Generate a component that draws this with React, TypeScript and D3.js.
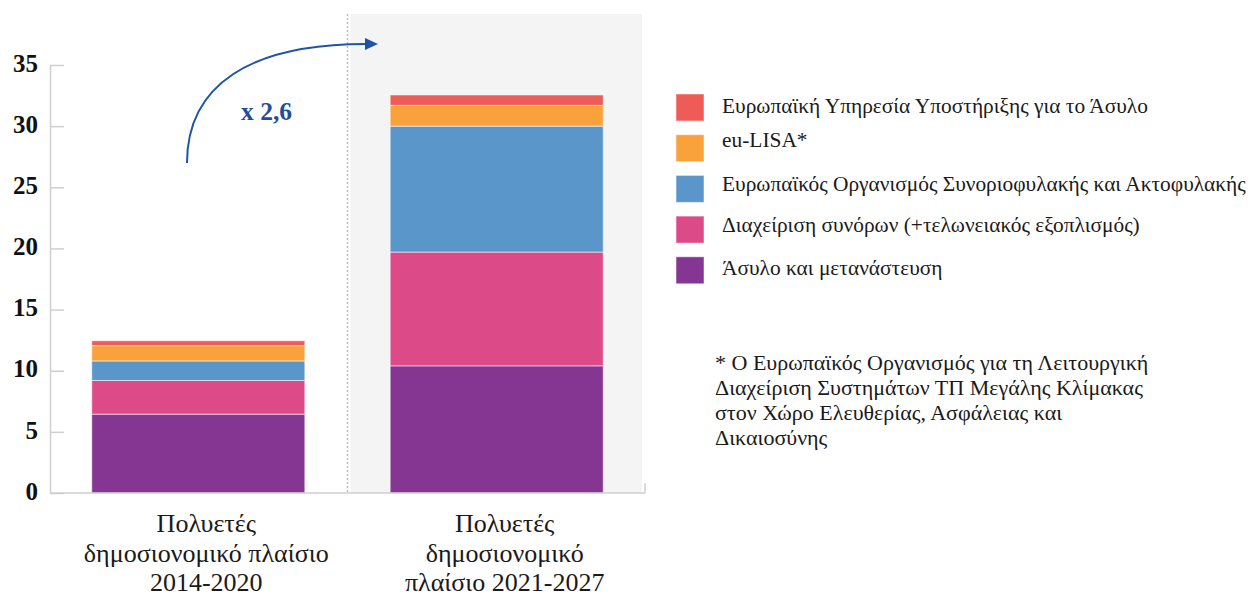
import { useEffect, useRef } from "react";
import * as d3 from "d3";

// periods (x categories), each label split into lines
const periods = ["2014-2020", "2021-2027"];
const periodLabels = [
  ["Πολυετές", "δημοσιονομικό πλαίσιο", "2014-2020"],
  ["Πολυετές", "δημοσιονομικό", "πλαίσιο 2021-2027"],
];

// stack order: bottom -> top
const seriesKeys = ["asylum", "borders", "frontex", "eulisa", "easo"];
const seriesNames = [
  "Άσυλο και μετανάστευση",
  "Διαχείριση συνόρων (+τελωνειακός εξοπλισμός)",
  "Ευρωπαϊκός Οργανισμός Συνοριοφυλακής και Ακτοφυλακής",
  "eu-LISA*",
  "Ευρωπαϊκή Υπηρεσία Υποστήριξης για το Άσυλο",
];
const seriesColors = ["#843692", "#DD4A88", "#5B96CB", "#F9A13A", "#EF5B57"];

// billion EUR
const asylum = [6.45, 10.4];
const borders = [2.75, 9.3];
const frontex = [1.6, 10.3];
const eulisa = [1.25, 1.7];
const easo = [0.4, 0.85];

const yTicks = [0, 5, 10, 15, 20, 25, 30, 35];
const growthLabel = "x 2,6";
const footnote = [
  "* Ο Ευρωπαϊκός Οργανισμός για τη Λειτουργική",
  "Διαχείριση Συστημάτων ΤΠ Μεγάλης Κλίμακας",
  "στον Χώρο Ελευθερίας, Ασφάλειας και",
  "Δικαιοσύνης",
];

const W = 1248;
const H = 596;
const serif = "'Liberation Serif', 'Times New Roman', serif";

export default function App() {
  const yAxis = useRef<SVGGElement>(null);

  const rows = periods.map((p, i) => ({
    period: p,
    asylum: asylum[i],
    borders: borders[i],
    frontex: frontex[i],
    eulisa: eulisa[i],
    easo: easo[i],
  }));
  const stacked = d3.stack<any>().keys(seriesKeys)(rows);

  const x = d3
    .scaleBand()
    .domain(periods)
    .range([50, 645])
    .paddingInner(0.286)
    .paddingOuter(0.14);
  const y = d3.scaleLinear().domain([0, 35]).range([493, 65]);
  const color = d3.scaleOrdinal<string, string>().domain(seriesKeys).range(seriesColors);

  const splitX = (x(periods[1]) as number) - (x.step() * x.paddingInner()) / 2;
  const [x0, x1] = x.range();

  useEffect(() => {
    const g = d3.select(yAxis.current!);
    g.attr("transform", `translate(${x0},0)`)
      .call(d3.axisLeft(y).tickValues(yTicks).tickSize(-14).tickSizeOuter(0).tickPadding(12));
    g.attr("font-family", serif).attr("font-size", 25);
    g.select(".domain").attr("stroke", "#cfcfcf").attr("stroke-width", 1.5);
    g.selectAll(".tick line").attr("stroke", "#cfcfcf").attr("stroke-width", 1.5);
    g.selectAll(".tick text")
      .attr("fill", "#111")
      .attr("dy", "0.25em")
      .style("font-family", serif)
      .style("font-weight", "bold")
      .style("font-size", "25px");
  }, []);

  // arrow from first bar region to second
  const arrow = d3.path();
  arrow.moveTo(187, 163);
  arrow.bezierCurveTo(187, 85, 250, 44, 366, 44);

  const legendX = 676;
  const legendTop = 94;
  const legendStep = 40.7;
  const legendBaseline = [18.5, 12, 16, 16, 18.5];
  const legendOrder = [4, 3, 2, 1, 0];

  return (
    <svg
      width={W}
      height={H}
      style={{ position: "absolute", left: 0, top: 0, background: "#fff", fontFamily: serif }}
    >
      <rect x={splitX + 3} y={14} width={x1 - splitX - 6} height={y(0) - 14} fill="#f4f4f4" />
      <line
        x1={splitX}
        x2={splitX}
        y1={14}
        y2={y(0)}
        stroke="#bdbdbd"
        strokeWidth={1.5}
        strokeDasharray="2,2"
      />

      {stacked.map((s) => (
        <g key={s.key} fill={color(s.key)}>
          {s.map((d, i) => (
            <rect
              key={i}
              x={x(periods[i])}
              y={y(d[1])}
              width={x.bandwidth()}
              height={y(d[0]) - y(d[1])}
              stroke="rgba(255,255,255,0.55)"
              strokeWidth={1}
            />
          ))}
        </g>
      ))}

      <line x1={x0} x2={x1} y1={y(0)} y2={y(0)} stroke="#cfcfcf" strokeWidth={1.5} />
      <line x1={x1} x2={x1} y1={y(0) - 10} y2={y(0)} stroke="#cfcfcf" strokeWidth={1.5} />
      <g ref={yAxis}></g>

      {periodLabels.map((lines, i) => {
        const cx = (x(periods[i]) as number) + x.bandwidth() / 2 + 8;
        return (
          <text key={i} x={cx} y={532} textAnchor="middle" fontSize={26} fill="#1a1a1a">
            {lines.map((l, j) => (
              <tspan key={j} x={cx} dy={j === 0 ? 0 : 29.5}>
                {l}
              </tspan>
            ))}
          </text>
        );
      })}

      <path d={arrow.toString()} fill="none" stroke="#1F53A3" strokeWidth={2} />
      <path d="M365,38 L378,44 L365,50 Z" fill="#1F53A3" />
      <text x={241} y={120} fontSize={25.5} fontWeight="bold" fill="#1F4E9A">
        {growthLabel}
      </text>

      {legendOrder.map((k, i) => (
        <g key={k} transform={`translate(${legendX},${legendTop + i * legendStep})`}>
          <rect
            width={28}
            height={27}
            fill={seriesColors[k]}
            stroke="rgba(255,255,255,0.5)"
            strokeWidth={1}
          />
          <text x={46} y={legendBaseline[i]} fontSize={21.4} fill="#1a1a1a">
            {seriesNames[k]}
          </text>
        </g>
      ))}

      <text x={715} y={370} fontSize={22} fill="#1a1a1a">
        {footnote.map((l, j) => (
          <tspan key={j} x={715} dy={j === 0 ? 0 : 25}>
            {l}
          </tspan>
        ))}
      </text>
    </svg>
  );
}
